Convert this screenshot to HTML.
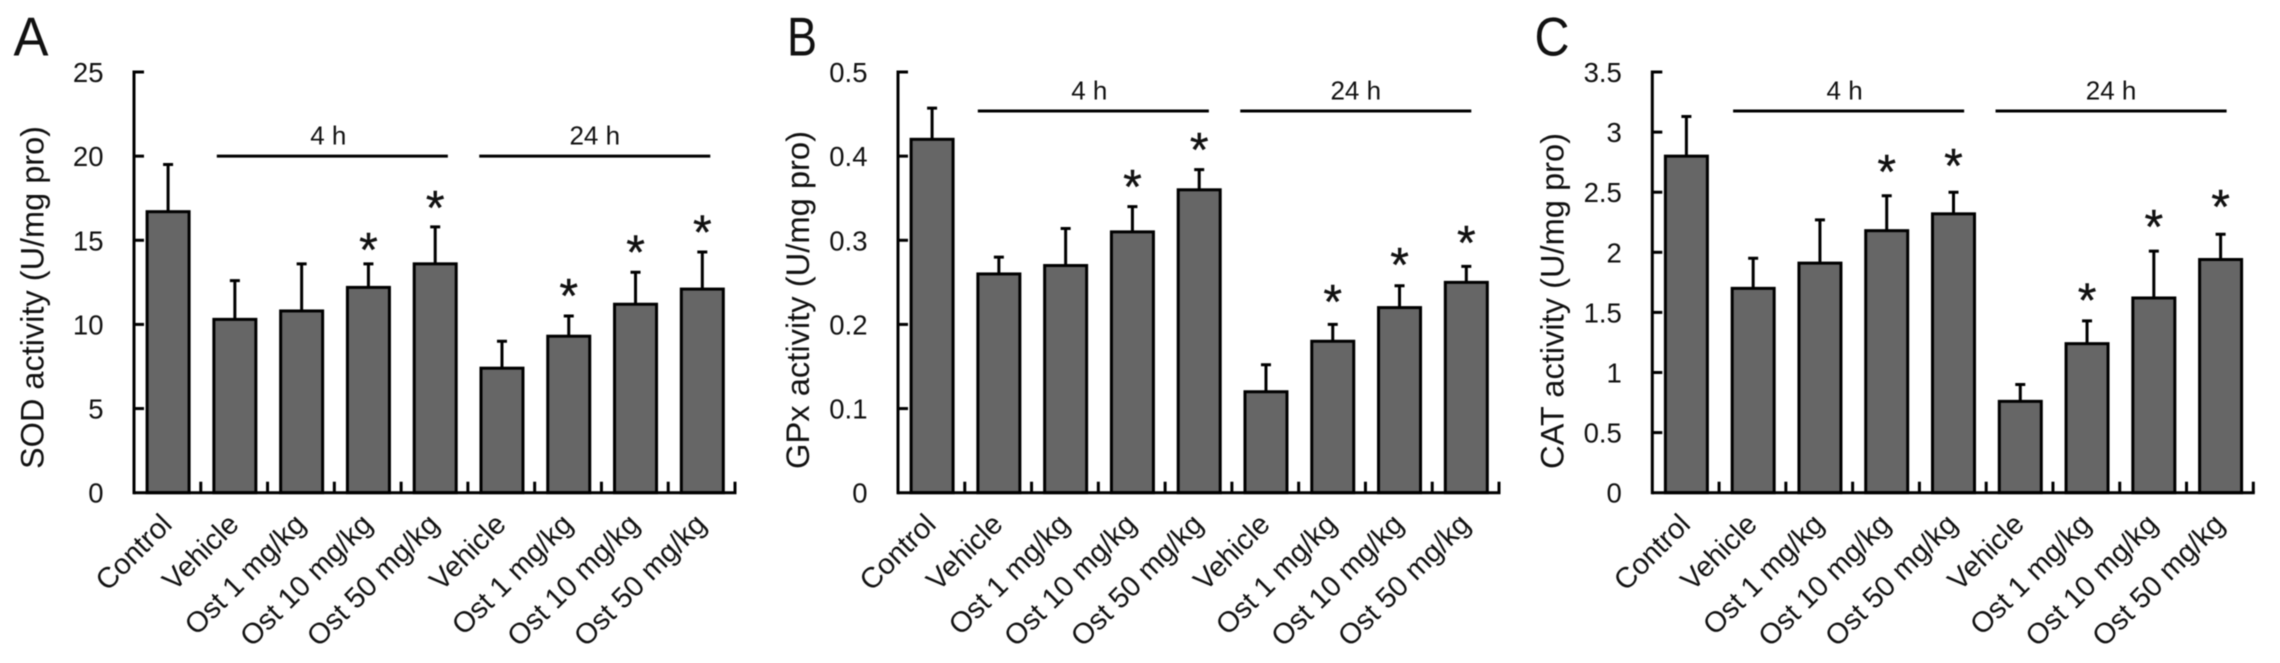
<!DOCTYPE html>
<html lang="en">
<head>
<meta charset="utf-8">
<title>SOD, GPx and CAT activity</title>
<style>
html,body{margin:0;padding:0;background:#fff;width:2280px;height:663px;overflow:hidden}
svg{display:block;filter:blur(.4px)}
text{font-family:"Liberation Sans",sans-serif;fill:#111}
</style>
</head>
<body>
<svg id="chart" xmlns="http://www.w3.org/2000/svg" width="2280" height="663" viewBox="0 0 2280 663"></svg>
<script>
const categories = ["Control","Vehicle","Ost 1 mg/kg","Ost 10 mg/kg","Ost 50 mg/kg","Vehicle","Ost 1 mg/kg","Ost 10 mg/kg","Ost 50 mg/kg"];
const groupLabels = ["4 h","24 h"];

const sodValues = [16.7,10.3,10.8,12.2,13.6,7.4,9.3,11.2,12.1];
const sodErrors = [2.8,2.3,2.8,1.4,2.2,1.6,1.2,1.9,2.2];
const sodStarLevels = [null,null,null,14.9,17.4,null,12.15,14.75,15.95];
const sodTickLabels = ["0","5","10","15","20","25"];

const gpxValues = [0.42,0.26,0.27,0.31,0.36,0.12,0.18,0.22,0.25];
const gpxErrors = [0.037,0.02,0.044,0.03,0.024,0.032,0.02,0.026,0.019];
const gpxStarLevels = [null,null,null,0.373,0.417,null,0.236,0.28,0.306];
const gpxTickLabels = ["0","0.1","0.2","0.3","0.4","0.5"];

const catValues = [2.8,1.7,1.91,2.18,2.32,0.76,1.24,1.62,1.94];
const catErrors = [0.33,0.25,0.36,0.29,0.18,0.14,0.19,0.39,0.21];
const catStarLevels = [null,null,null,2.735,2.785,null,1.665,2.275,2.445];
const catTickLabels = ["0","0.5","1","1.5","2","2.5","3","3.5"];

const svg = document.getElementById('chart');
const NS = 'http://www.w3.org/2000/svg';
const PLOT_TOP = 72, PLOT_BOTTOM = 492.7, PLOT_W = 601;

function make(tag, attrs, parent, txt) {
  const el = document.createElementNS(NS, tag);
  for (const k in attrs) el.setAttribute(k, attrs[k]);
  if (txt !== undefined) el.textContent = txt;
  parent.appendChild(el);
  return el;
}

function drawPanel(o) {
  const g = make('g', {}, svg);
  
  
  const maxV = parseFloat(o.ticks[o.ticks.length - 1]);
  const yScale = v => PLOT_BOTTOM - (v / maxV) * (PLOT_BOTTOM - PLOT_TOP);
  const step = PLOT_W / o.values.length;
  const xBand = i => o.x + i * step;
  const xCenter = i => xBand(i) + step / 2 + 0.7;

  const letter = make('text', {x: o.letterX, y: 55.5, 'font-size': 55, textLength: o.letterLen, lengthAdjust: 'spacingAndGlyphs'}, g, o.letter);
  
  

  const title = make('text', {transform: 'translate(' + (o.x - o.titleGap) + ',469) rotate(-90)', 'font-size': 32, 'text-anchor': 'start', textLength: o.titleLen, lengthAdjust: 'spacingAndGlyphs'}, g, o.title);
  
  

  o.values.forEach((v, i) => {
    const top = yScale(v);
    const bar = make('rect', {x: xCenter(i) - 21, y: top, width: 42, height: PLOT_BOTTOM - top, fill: '#666', stroke: '#000', 'stroke-width': 3}, g);
    
    

    const errTop = yScale(v + o.errors[i]);
    const err = make('path', {d: 'M' + xCenter(i) + ' ' + top + 'V' + errTop + 'm-5 0h10', fill: 'none', stroke: '#000', 'stroke-width': 3}, g);
    
    

    if (o.starLevels[i] !== null) {
      const star = make('text', {x: xCenter(i), y: yScale(o.starLevels[i]) + 24, 'font-size': 48, 'text-anchor': 'middle', stroke: '#111', 'stroke-width': 0.4}, g, '*');
      
      
    }

    const label = make('text', {transform: 'translate(' + (xCenter(i) + 5.5) + ',526) rotate(-45)', 'font-size': 29, 'text-anchor': 'end'}, g, categories[i]);
    
    
  });

  const yAxis = make('line', {x1: o.x, x2: o.x, y1: PLOT_TOP - 1.5, y2: PLOT_BOTTOM + 1.5, stroke: '#000', 'stroke-width': 3}, g);
  
  
  const xAxis = make('line', {x1: o.x, x2: o.x + PLOT_W + 1.5, y1: PLOT_BOTTOM, y2: PLOT_BOTTOM, stroke: '#000', 'stroke-width': 3}, g);
  
  

  o.ticks.forEach((t, i) => {
    const y = yScale(parseFloat(t));
    if (i > 0) {
      const tick = make('line', {x1: o.x, x2: o.x + 10, y1: y, y2: y, stroke: '#000', 'stroke-width': 3}, g);
      
      
    }
    const lab = make('text', {x: o.x - 30.5, y: y + 10, 'font-size': 27.5, 'text-anchor': 'end'}, g, t);
    
    
  });

  for (let i = 1; i <= o.values.length; i++) {
    const tick = make('line', {x1: xBand(i), x2: xBand(i), y1: PLOT_BOTTOM, y2: PLOT_BOTTOM - 11, stroke: '#000', 'stroke-width': 3}, g);
    
    
  }

  groupLabels.forEach((name, i) => {
    const from = i === 0 ? 1.24 : 5.17;
    const to = i === 0 ? 4.7 : 8.63;
    const y = yScale(o.groupLevel);
    const line = make('line', {x1: xBand(from) + o.groupShift, x2: xBand(to) + o.groupShift, y1: y, y2: y, stroke: '#000', 'stroke-width': 3}, g);
    
    
    const text = make('text', {x: (xBand(from) + xBand(to)) / 2 + o.groupShift - (i === 0 ? 4 : 0), y: y - 11.5, 'font-size': 26, 'text-anchor': 'middle'}, g, name);
    
    
  });
}

drawPanel({id: 'sod', letter: 'A', letterX: 13.5, letterLen: 35, x: 134, title: 'SOD activity (U/mg pro)', titleLen: 343, titleGap: 90.5, values: sodValues, errors: sodErrors, starLevels: sodStarLevels, ticks: sodTickLabels, groupLevel: 20, groupShift: 0});
drawPanel({id: 'gpx', letter: 'B', letterX: 787, letterLen: 30, x: 898, title: 'GPx activity (U/mg pro)', titleLen: 338, titleGap: 89, values: gpxValues, errors: gpxErrors, starLevels: gpxStarLevels, ticks: gpxTickLabels, groupLevel: 0.4536, groupShift: -3});
drawPanel({id: 'cat', letter: 'C', letterX: 1534.5, letterLen: 35, x: 1652.3, title: 'CAT activity (U/mg pro)', titleLen: 336, titleGap: 88.8, values: catValues, errors: catErrors, starLevels: catStarLevels, ticks: catTickLabels, groupLevel: 3.176, groupShift: -2});
</script>
</body>
</html>
